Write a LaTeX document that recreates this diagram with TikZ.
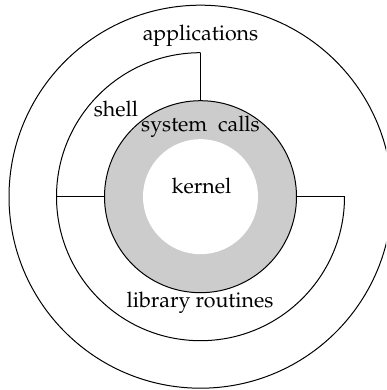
\documentclass[tikz,border=0pt]{standalone}
\usepackage[T1]{fontenc}
\usepackage{mathpazo}
\usetikzlibrary{calc}
\definecolor{ringgray}{gray}{0.8}
\begin{document}
\begin{tikzpicture}[x=0.5pt,y=0.5pt,line width=0.5pt,
  lbl/.style={anchor=base,inner sep=0pt,font=\fontsize{10.7}{13}\selectfont}]
\useasboundingbox (0,0) rectangle (386,390);
\clip (0,0) rectangle (386,390);
\coordinate (c) at (200.5,193.3);
% outer circle (applications)
\draw (c) circle[radius=191.5];
% middle ring: shell and library routines
\draw ($(c)+(90:144)$) arc[start angle=90,end angle=360,radius=144];
\draw ($(c)+(90:96)$) -- ($(c)+(90:144)$);
\draw ($(c)+(180:96)$) -- ($(c)+(180:144)$);
\draw ($(c)+(0:96)$) -- ($(c)+(0:144)$);
% system calls ring and kernel
\draw[fill=ringgray] (c) circle[radius=96];
\fill[white] (c) circle[radius=57.5];
% labels
\node[lbl] (apps) at (200.5,349) {applications};
\node[lbl] (shell) at (116,273) {shell};
\node[lbl] (sys) at (200.5,258) {system\ \ calls};
\node[lbl] (kern) at (201.5,196) {kernel};
\node[lbl] (lib) at (200,82) {library routines};
\end{tikzpicture}
\end{document}
